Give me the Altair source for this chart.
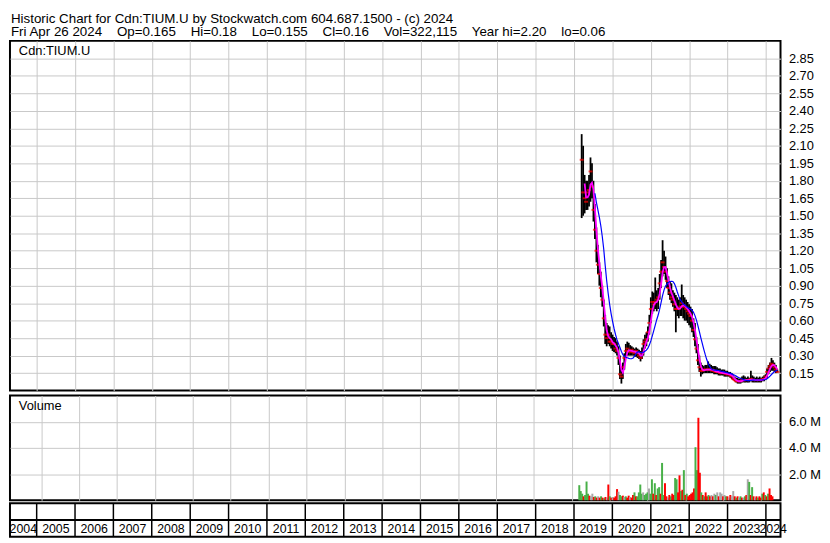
import altair as alt
import pandas as pd

FONT = "Liberation Sans"
W = 780
H_PRICE = 354
H_VOL = 106
H_STRIP = 34

# ---- header text ----
GAP = "\u00a0\u00a0\u00a0 "
header_line1 = "Historic Chart for Cdn:TIUM.U by Stockwatch.com 604.687.1500 - (c) 2024"
header_line2 = GAP.join(["Fri Apr 26 2024", "Op=0.165", "Hi=0.18", "Lo=0.155", "Cl=0.16",
                         "Vol=322,115", "Year hi=2.20", "lo=0.06"])
symbol_label = "Cdn:TIUM.U"
volume_label = "Volume"

# ---- bi-weekly bars, first bar 2019-03-15 ----
start_date = "2019-03-15"

high_2019 = [2.20, 2.10, 1.85, 1.80, 1.80, 1.85, 2.00, 1.95, 1.80, 1.60, 1.40, 1.25, 1.10, 1.02, 0.90, 0.78, 0.65, 0.58, 0.56, 0.55, 0.50]
low_2019 = [1.48, 1.50, 1.52, 1.55, 1.55, 1.58, 1.62, 1.65, 1.45, 1.30, 1.10, 1.00, 0.90, 0.80, 0.72, 0.55, 0.40, 0.38, 0.40, 0.38, 0.36]
close_2019 = [1.98, 1.70, 1.65, 1.62, 1.70, 1.72, 1.88, 1.75, 1.55, 1.38, 1.20, 1.08, 1.00, 0.88, 0.78, 0.62, 0.48, 0.45, 0.48, 0.42, 0.42]

high_2020 = [0.48, 0.46, 0.45, 0.42, 0.38, 0.30, 0.20, 0.24, 0.32, 0.40, 0.42, 0.41, 0.39, 0.38, 0.37, 0.36, 0.37, 0.36, 0.35, 0.34, 0.37, 0.44, 0.48, 0.50, 0.55, 0.65]
low_2020 = [0.34, 0.33, 0.32, 0.30, 0.22, 0.10, 0.06, 0.10, 0.18, 0.28, 0.30, 0.30, 0.30, 0.30, 0.30, 0.29, 0.29, 0.28, 0.27, 0.25, 0.27, 0.30, 0.36, 0.38, 0.42, 0.48]
close_2020 = [0.40, 0.40, 0.36, 0.34, 0.28, 0.14, 0.12, 0.20, 0.28, 0.34, 0.36, 0.34, 0.33, 0.35, 0.33, 0.32, 0.34, 0.32, 0.30, 0.28, 0.32, 0.40, 0.42, 0.44, 0.50, 0.58]

high_2021 = [0.80, 0.85, 0.84, 0.97, 0.86, 0.88, 1.00, 1.12, 1.29, 1.20, 1.15, 1.05, 0.98, 0.94, 0.92, 0.86, 0.84, 0.82, 0.80, 0.78, 0.80, 0.91, 0.82, 0.80, 0.78, 0.76]
low_2021 = [0.58, 0.66, 0.68, 0.70, 0.68, 0.70, 0.78, 0.88, 0.98, 1.00, 0.95, 0.88, 0.82, 0.78, 0.75, 0.72, 0.68, 0.50, 0.64, 0.62, 0.64, 0.64, 0.62, 0.60, 0.60, 0.58]
close_2021 = [0.70, 0.76, 0.74, 0.76, 0.78, 0.80, 0.92, 1.02, 1.10, 1.06, 1.02, 0.94, 0.88, 0.84, 0.80, 0.78, 0.74, 0.70, 0.70, 0.70, 0.72, 0.75, 0.72, 0.72, 0.70, 0.68]

high_2022 = [0.74, 0.72, 0.70, 0.62, 0.58, 0.46, 0.40, 0.30, 0.24, 0.22, 0.21, 0.22, 0.22, 0.25, 0.23, 0.22, 0.21, 0.21, 0.21, 0.20, 0.19, 0.19, 0.18, 0.18, 0.18, 0.17]
low_2022 = [0.56, 0.54, 0.50, 0.46, 0.38, 0.32, 0.22, 0.16, 0.12, 0.14, 0.15, 0.15, 0.15, 0.15, 0.15, 0.15, 0.15, 0.14, 0.14, 0.14, 0.13, 0.13, 0.13, 0.13, 0.12, 0.12]
close_2022 = [0.66, 0.64, 0.60, 0.52, 0.44, 0.36, 0.26, 0.20, 0.17, 0.17, 0.18, 0.18, 0.18, 0.18, 0.18, 0.18, 0.17, 0.17, 0.16, 0.16, 0.16, 0.15, 0.15, 0.15, 0.15, 0.14]

high_2023 = [0.17, 0.16, 0.16, 0.15, 0.13, 0.12, 0.11, 0.11, 0.10, 0.11, 0.12, 0.13, 0.12, 0.11, 0.12, 0.11, 0.17, 0.13, 0.12, 0.11, 0.12, 0.11, 0.12, 0.11, 0.12, 0.13]
low_2023 = [0.12, 0.12, 0.11, 0.10, 0.09, 0.08, 0.07, 0.06, 0.06, 0.06, 0.07, 0.07, 0.07, 0.07, 0.07, 0.07, 0.08, 0.07, 0.07, 0.07, 0.07, 0.07, 0.07, 0.07, 0.08, 0.08]
close_2023 = [0.14, 0.14, 0.13, 0.12, 0.10, 0.09, 0.08, 0.08, 0.08, 0.08, 0.09, 0.09, 0.09, 0.09, 0.09, 0.09, 0.10, 0.09, 0.09, 0.09, 0.09, 0.09, 0.09, 0.09, 0.10, 0.10]

high_2024 = [0.14, 0.19, 0.22, 0.24, 0.28, 0.26, 0.24, 0.22, 0.18]
low_2024 = [0.09, 0.11, 0.14, 0.16, 0.17, 0.17, 0.16, 0.15, 0.155]
close_2024 = [0.12, 0.16, 0.19, 0.21, 0.23, 0.22, 0.20, 0.18, 0.16]

# volume in millions, and direction: u = up (green), d = down (red), n = unchanged (gray)
vol_2019 = [1.15, 0.7, 0.5, 0.3, 0.4, 1.43, 0.5, 0.35, 0.3, 0.5, 0.25, 0.3, 0.2, 0.3, 0.2, 0.3, 0.2, 0.15, 0.25, 0.2, 1.2]
dir_2019 = ["u", "u", "u", "d", "u", "u", "u", "d", "n", "n", "d", "u", "d", "n", "d", "u", "d", "u", "d", "n", "d"]
vol_2020 = [0.3, 0.2, 0.25, 0.2, 0.3, 0.85, 0.65, 0.4, 0.3, 0.35, 0.25, 0.3, 0.2, 0.35, 0.25, 0.2, 0.4, 0.6, 0.3, 0.3, 0.6, 1.2, 0.5, 0.6, 0.4, 0.5]
dir_2020 = ["u", "d", "n", "d", "d", "d", "n", "u", "u", "d", "n", "u", "d", "d", "n", "d", "d", "u", "d", "u", "u", "u", "u", "n", "u", "u"]
vol_2021 = [0.6, 0.9, 0.5, 1.6, 0.5, 1.3, 0.4, 0.9, 1.0, 0.5, 2.85, 0.4, 1.3, 0.3, 0.2, 0.4, 0.3, 0.5, 0.4, 1.7, 1.6, 0.6, 1.9, 0.7, 0.8, 2.3]
dir_2021 = ["u", "n", "u", "u", "d", "u", "d", "u", "u", "d", "u", "u", "d", "d", "n", "d", "u", "d", "d", "u", "u", "d", "d", "u", "d", "u"]
vol_2022 = [0.4, 0.5, 0.3, 0.4, 0.5, 0.6, 0.9, 4.05, 2.3, 6.3, 2.1, 0.6, 0.4, 0.3, 0.6, 0.3, 0.4, 0.3, 0.4, 0.3, 0.5, 0.4, 0.6, 0.3, 0.6, 0.5]
dir_2022 = ["d", "u", "d", "d", "d", "d", "d", "u", "u", "d", "d", "u", "d", "u", "d", "d", "u", "d", "n", "d", "n", "u", "n", "d", "n", "n"]
vol_2023 = [0.3, 0.4, 0.3, 0.3, 0.2, 0.4, 0.3, 0.7, 0.3, 0.2, 0.3, 0.2, 0.3, 0.2, 0.2, 0.3, 0.4, 1.6, 1.4, 0.4, 1.0, 0.3, 0.2, 0.3, 0.2, 0.3]
dir_2023 = ["d", "n", "u", "d", "n", "d", "n", "n", "d", "u", "d", "n", "u", "d", "n", "u", "d", "n", "u", "d", "u", "d", "n", "d", "u", "d"]
vol_2024 = [0.2, 0.5, 0.6, 0.4, 0.3, 0.5, 0.9, 0.4, 0.3]
dir_2024 = ["d", "u", "d", "u", "d", "u", "d", "d", "d"]

price_ticks = [0.15, 0.30, 0.45, 0.60, 0.75, 0.90, 1.05, 1.20, 1.35, 1.50, 1.65, 1.80,
               1.95, 2.10, 2.25, 2.40, 2.55, 2.70, 2.85]
volume_ticks = [2e6, 4e6, 6e6]
years_shown = list(range(2004, 2025))

high = high_2019 + high_2020 + high_2021 + high_2022 + high_2023 + high_2024
low = low_2019 + low_2020 + low_2021 + low_2022 + low_2023 + low_2024
close = close_2019 + close_2020 + close_2021 + close_2022 + close_2023 + close_2024
vol = vol_2019 + vol_2020 + vol_2021 + vol_2022 + vol_2023 + vol_2024
dirs = dir_2019 + dir_2020 + dir_2021 + dir_2022 + dir_2023 + dir_2024

dates = pd.date_range(start_date, periods=len(close), freq="14D")
df = pd.DataFrame({"date": dates, "high": high, "low": low, "close": close,
                   "vol": [v * 1e6 for v in vol], "dir": dirs})
df["ma_fast"] = df["close"].rolling(3).mean()
df["ma_slow"] = df["close"].rolling(10).mean()

dom_start = pd.Timestamp("2004-04-22")
dom_end = pd.Timestamp("2024-05-19")
xscale = alt.Scale(domain=[alt.DateTime(year=2004, month=4, date=22),
                           alt.DateTime(year=2024, month=5, date=19)])
year_ticks = [alt.DateTime(year=y, month=1, date=1) for y in range(2005, 2025)]
x_grid_axis = alt.Axis(values=year_ticks, tickCount=40, labels=False, ticks=False,
                       domain=False, grid=True, title=None)

# ---- price panel ----
base = alt.Chart(df)
bars = base.mark_rule(color="black", strokeWidth=1.8).encode(
    x=alt.X("date:T", scale=xscale, axis=x_grid_axis, title=None),
    y=alt.Y("low:Q", scale=alt.Scale(domain=[0, 3.0], nice=False, zero=True),
            axis=alt.Axis(orient="right", values=price_ticks, tickCount=40, format=".2f",
                          grid=True, title=None, labelOverlap=False),
            title=None),
    y2="high:Q",
)
close_ticks = base.mark_tick(color="#ff0000", orient="horizontal", size=4, thickness=2).encode(
    x=alt.X("date:T", title=None), y=alt.Y("close:Q", title=None))
fast_line = base.mark_line(color="#ff00ff", strokeWidth=1.8).encode(
    x=alt.X("date:T", title=None), y=alt.Y("ma_fast:Q", title=None))
slow_line = base.mark_line(color="#0000ff", strokeWidth=1.2).encode(
    x=alt.X("date:T", title=None), y=alt.Y("ma_slow:Q", title=None))
sym_text = alt.Chart(pd.DataFrame({"t": [symbol_label]})).mark_text(
    align="left", baseline="middle", font=FONT, fontSize=13, color="black").encode(
    text="t:N", x=alt.value(9), y=alt.value(10))

price = alt.layer(bars, close_ticks, fast_line, slow_line, sym_text).properties(
    width=W, height=H_PRICE)

# ---- volume panel ----
vbars = base.mark_bar(width=2).encode(
    x=alt.X("date:T", scale=xscale, axis=x_grid_axis, title=None),
    y=alt.Y("vol:Q", scale=alt.Scale(domain=[0, 8e6], nice=False),
            axis=alt.Axis(orient="right", values=volume_ticks, tickCount=10, grid=True,
                          title=None, labelOverlap=False,
                          labelExpr="format(datum.value / 1000000, '.1f') + ' M'"),
            title=None),
    color=alt.Color("dir:N", scale=alt.Scale(domain=["u", "d", "n"],
                                             range=["#48b048", "#ff0000", "#a8a8a8"]),
                    legend=None),
)
vol_text = alt.Chart(pd.DataFrame({"t": [volume_label]})).mark_text(
    align="left", baseline="middle", font=FONT, fontSize=13, color="black").encode(
    text="t:N", x=alt.value(9), y=alt.value(11))
volume = alt.layer(vbars, vol_text).properties(width=W, height=H_VOL)

# ---- year strip ----
year_starts = pd.DataFrame({"date": [pd.Timestamp(f"{y}-01-01") for y in range(2005, 2025)]})
label_dates = []
for y in years_shown:
    a = max(pd.Timestamp(f"{y}-01-01"), dom_start)
    b = min(pd.Timestamp(f"{y + 1}-01-01"), dom_end)
    label_dates.append(a + (b - a) / 2)
year_labels = pd.DataFrame({"label": [str(y) for y in years_shown], "date": label_dates})

strip_rules = alt.Chart(year_starts).mark_rule(color="black", strokeWidth=1.5).encode(
    x=alt.X("date:T", scale=xscale, axis=None), y=alt.value(0), y2=alt.value(H_STRIP))
strip_mid = alt.Chart(pd.DataFrame({"a": [0]})).mark_rule(color="black", strokeWidth=2).encode(
    x=alt.value(0), x2=alt.value(W), y=alt.value(17))
strip_text = alt.Chart(year_labels).mark_text(
    font=FONT, fontSize=12.5, color="black", baseline="middle").encode(
    x=alt.X("date:T", scale=xscale, axis=None), y=alt.value(26), text="label:N")
strip = alt.layer(strip_rules, strip_mid, strip_text).properties(width=W, height=H_STRIP)

lower = alt.vconcat(volume, strip, spacing=0)
chart = alt.vconcat(price, lower, spacing=3).properties(
    title=alt.TitleParams(text=[header_line1, header_line2], anchor="start", font=FONT,
                          fontSize=13.5, fontWeight="normal", color="black", lineHeight=14,
                          offset=1, dx=3),
    padding=0,
    background="white",
).configure_view(
    stroke="black", strokeWidth=2
).configure_axis(
    labelFont=FONT, labelFontSize=13, labelColor="black", gridColor="#c8c8c8",
    gridWidth=1, domain=False, ticks=False, labelPadding=8
)

chart.save("out.html", embed_options={"renderer": "svg", "actions": False})
